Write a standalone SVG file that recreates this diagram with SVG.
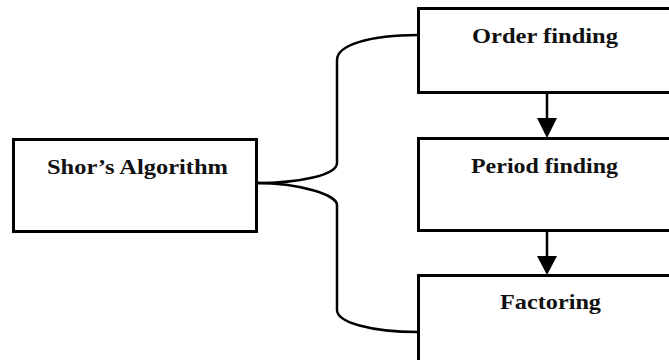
<svg xmlns="http://www.w3.org/2000/svg" width="669" height="360" viewBox="0 0 669 360">
<style>
.box{fill:#fff;stroke:#000;stroke-width:3}
.lbl{font-family:"Liberation Serif",serif;font-weight:bold;font-size:22px;fill:#111}
.con{fill:none;stroke:#000;stroke-width:2.5}
</style>
<g id="shor"><rect class="box" x="13.5" y="139.5" width="243" height="92"/><text class="lbl" x="47" y="174" textLength="181" lengthAdjust="spacingAndGlyphs">Shor’s Algorithm</text></g>
<g id="order"><rect class="box" x="418.5" y="8.5" width="260" height="84"/><text class="lbl" x="472" y="43" textLength="146" lengthAdjust="spacingAndGlyphs">Order finding</text></g>
<g id="period"><rect class="box" x="418.5" y="138.5" width="260" height="92"/><text class="lbl" x="471" y="173" textLength="147" lengthAdjust="spacingAndGlyphs">Period finding</text></g>
<g id="factoring"><rect class="box" x="418.5" y="275.5" width="260" height="100"/><text class="lbl" x="500" y="309" textLength="101" lengthAdjust="spacingAndGlyphs">Factoring</text></g>
<g id="connectors">
<path class="con" d="M256,183 C300,183 337,175 337,163 L337,60 C337,45 370,35 418,35"/>
<path class="con" d="M256,183 C300,183 337,195 337,205 L337,310 C337,322 370,332 418,332"/>
<line class="con" x1="547" y1="93" x2="547" y2="120"/>
<path d="M537,118 L557,118 L547,138 Z" fill="#000"/>
<line class="con" x1="547" y1="231" x2="547" y2="258"/>
<path d="M537,256 L557,256 L547,275 Z" fill="#000"/>
</g>
</svg>
